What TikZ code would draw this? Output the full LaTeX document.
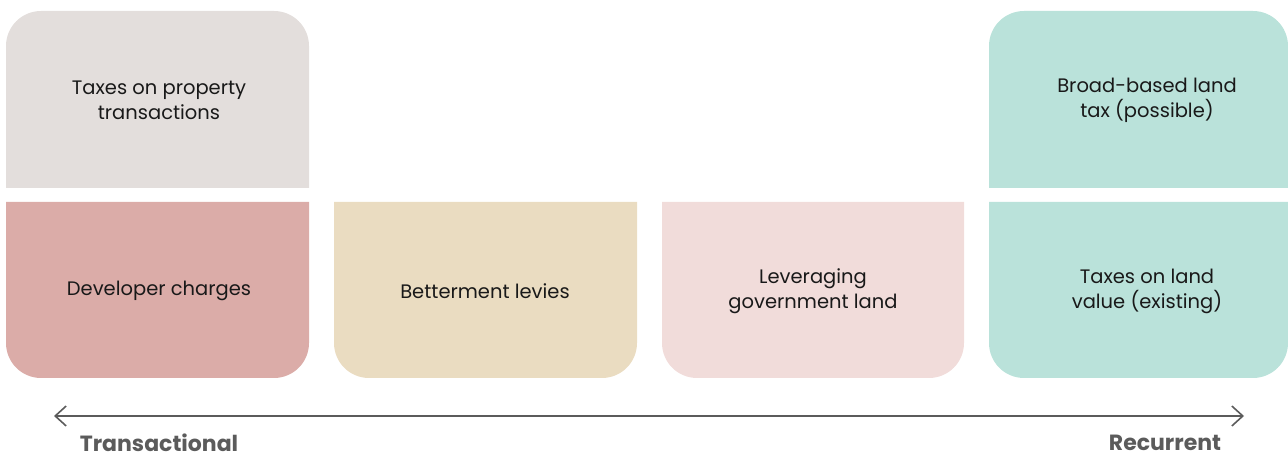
\documentclass[tikz,border=0pt]{standalone}
\usepackage{fontspec}
\setmainfont{Poppins}
\usepackage{xcolor}
\usetikzlibrary{arrows.meta,positioning,calc}

\definecolor{propgrey}{HTML}{E3DEDC}
\definecolor{devred}{HTML}{DBACA8}
\definecolor{levysand}{HTML}{EADCC1}
\definecolor{govpink}{HTML}{F1DCDA}
\definecolor{landteal}{HTML}{BAE2DA}
\definecolor{axisgrey}{HTML}{5B5B5B}

\tikzset{
  txt/.style={align=center, text=black!90, font=\fontsize{19.5}{25}\selectfont},
  endlabel/.style={text=axisgrey, font=\fontsize{22}{24}\selectfont\bfseries},
  axis/.style={draw=axisgrey, line width=1.6pt, {Straight Barb[length=11pt,width=20pt]}-{Straight Barb[length=11pt,width=20pt]}}
}

\begin{document}
\begin{tikzpicture}[x=1pt,y=1pt]
\useasboundingbox (0,0) rectangle (1288,457);

% upper row, rounded on top
\fill[propgrey] (6,269) -- (6,411) arc[start angle=180,end angle=90,radius=35] -- (274,446) arc[start angle=90,end angle=0,radius=35] -- (309,269) -- cycle;
\fill[landteal] (989,269) -- (989,411) arc[start angle=180,end angle=90,radius=35] -- (1253,446) arc[start angle=90,end angle=0,radius=35] -- (1288,269) -- cycle;

% lower row, rounded at the bottom
\fill[devred] (6,255) -- (6,114) arc[start angle=180,end angle=270,radius=35] -- (274,79) arc[start angle=270,end angle=360,radius=35] -- (309,255) -- cycle;
\fill[levysand] (334,255) -- (334,114) arc[start angle=180,end angle=270,radius=35] -- (602,79) arc[start angle=270,end angle=360,radius=35] -- (637,255) -- cycle;
\fill[govpink] (662,255) -- (662,114) arc[start angle=180,end angle=270,radius=35] -- (929,79) arc[start angle=270,end angle=360,radius=35] -- (964,255) -- cycle;
\fill[landteal] (989,255) -- (989,114) arc[start angle=180,end angle=270,radius=35] -- (1253,79) arc[start angle=270,end angle=360,radius=35] -- (1288,255) -- cycle;

\node[txt] (proptax) at (159,357) {Taxes on property\\transactions};
\node[txt] (broadtax) at (1147,357) {Broad-based land\\tax (possible)};
\node[txt] (devcharge) at (159,166) {Developer charges};
\node[txt] (betterment) at (485,166) {Betterment levies};
\node[txt] (govland) at (813,166) {Leveraging\\government land};
\node[txt] (landvalue) at (1147,166) {Taxes on land\\value (existing)};

\coordinate (lefttip) at (54,41);
\coordinate (righttip) at (1244,41);
\draw[axis] (lefttip) -- (righttip);

\node[endlabel] (trans) at (159,14) {Transactional};
\node[endlabel] (recur) at (1165,14) {Recurrent};
\end{tikzpicture}
\end{document}
